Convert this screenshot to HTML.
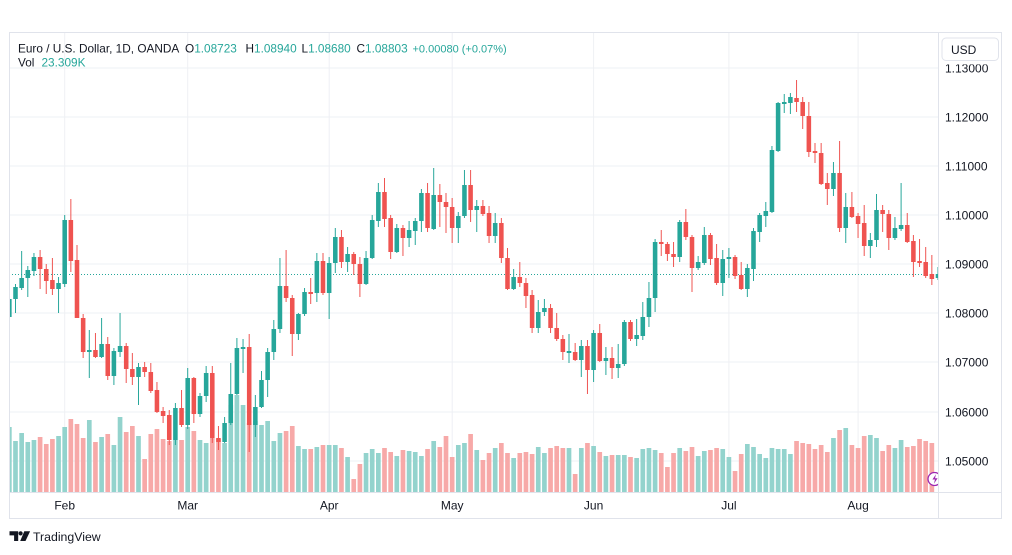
<!DOCTYPE html>
<html><head><meta charset="utf-8"><style>
html,body{margin:0;padding:0;background:#fff;overflow:hidden;}
svg{display:block;}
text{font-family:"Liberation Sans",sans-serif;}
</style></head><body>
<svg width="1012" height="555" viewBox="0 0 1012 555" xmlns="http://www.w3.org/2000/svg">
<rect width="1012" height="555" fill="#fff"/>
<defs><clipPath id="pane"><rect x="9" y="33" width="929.5" height="459"/></clipPath></defs>
<g stroke="#eef0f4" stroke-width="1">
<line x1="9" y1="68" x2="938" y2="68"/><line x1="9" y1="117" x2="938" y2="117"/><line x1="9" y1="166" x2="938" y2="166"/><line x1="9" y1="215" x2="938" y2="215"/><line x1="9" y1="264" x2="938" y2="264"/><line x1="9" y1="313" x2="938" y2="313"/><line x1="9" y1="362" x2="938" y2="362"/><line x1="9" y1="412" x2="938" y2="412"/><line x1="9" y1="461" x2="938" y2="461"/>
<line x1="64.7" y1="33" x2="64.7" y2="492"/><line x1="187.7" y1="33" x2="187.7" y2="492"/><line x1="329.2" y1="33" x2="329.2" y2="492"/><line x1="452.2" y1="33" x2="452.2" y2="492"/><line x1="593.6" y1="33" x2="593.6" y2="492"/><line x1="728.9" y1="33" x2="728.9" y2="492"/><line x1="858.1" y1="33" x2="858.1" y2="492"/>
</g>
<line x1="9" y1="274.5" x2="938" y2="274.5" stroke="#26a69a" stroke-width="1" stroke-dasharray="1 2"/>
<g clip-path="url(#pane)">
<g transform="translate(15.5 0) scale(6.15 1)">
<path fill="#93d3cd" d="M-1 427h.38V492h-.76V427zM0 441h.38V492h-.76V441zM1 433h.38V492h-.76V433zM2 442h.38V492h-.76V442zM3 440h.38V492h-.76V440zM7 436h.38V492h-.76V436zM8 427h.38V492h-.76V427zM12 420h.38V492h-.76V420zM14 437h.38V492h-.76V437zM16 445h.38V492h-.76V445zM17 417h.38V492h-.76V417zM20 436h.38V492h-.76V436zM26 440h.38V492h-.76V440zM28 427h.38V492h-.76V427zM30 440h.38V492h-.76V440zM31 443h.38V492h-.76V443zM34 443h.38V492h-.76V443zM35 405h.38V492h-.76V405zM36 395h.38V492h-.76V395zM37 405h.38V492h-.76V405zM39 421h.38V492h-.76V421zM40 425h.38V492h-.76V425zM41 421h.38V492h-.76V421zM42 441h.38V492h-.76V441zM43 433h.38V492h-.76V433zM46 446h.38V492h-.76V446zM47 449h.38V492h-.76V449zM49 447h.38V492h-.76V447zM51 445h.38V492h-.76V445zM52 445h.38V492h-.76V445zM54 457h.38V492h-.76V457zM57 453h.38V492h-.76V453zM58 449h.38V492h-.76V449zM59 453h.38V492h-.76V453zM62 456h.38V492h-.76V456zM64 451h.38V492h-.76V451zM65 452h.38V492h-.76V452zM66 456h.38V492h-.76V456zM68 441h.38V492h-.76V441zM72 445h.38V492h-.76V445zM73 443h.38V492h-.76V443zM75 450h.38V492h-.76V450zM78 448h.38V492h-.76V448zM81 458h.38V492h-.76V458zM85 447h.38V492h-.76V447zM86 453h.38V492h-.76V453zM90 448h.38V492h-.76V448zM92 448h.38V492h-.76V448zM94 446h.38V492h-.76V446zM96 456h.38V492h-.76V456zM98 455h.38V492h-.76V455zM99 455h.38V492h-.76V455zM101 458h.38V492h-.76V458zM102 449h.38V492h-.76V449zM103 448h.38V492h-.76V448zM104 450h.38V492h-.76V450zM108 448h.38V492h-.76V448zM111 456h.38V492h-.76V456zM112 451h.38V492h-.76V451zM115 449h.38V492h-.76V449zM116 457h.38V492h-.76V457zM119 444h.38V492h-.76V444zM120 447h.38V492h-.76V447zM121 454h.38V492h-.76V454zM122 458h.38V492h-.76V458zM123 448h.38V492h-.76V448zM124 449h.38V492h-.76V449zM125 449h.38V492h-.76V449zM126 454h.38V492h-.76V454zM133 438h.38V492h-.76V438zM135 428h.38V492h-.76V428zM139 435h.38V492h-.76V435zM140 438h.38V492h-.76V438zM143 448h.38V492h-.76V448zM144 440h.38V492h-.76V440z"/>
<path fill="#f7a9a8" d="M4 437h.38V492h-.76V437zM5 444h.38V492h-.76V444zM6 439h.38V492h-.76V439zM9 419h.38V492h-.76V419zM10 424h.38V492h-.76V424zM11 438h.38V492h-.76V438zM13 442h.38V492h-.76V442zM15 434h.38V492h-.76V434zM18 432h.38V492h-.76V432zM19 426h.38V492h-.76V426zM21 459h.38V492h-.76V459zM22 434h.38V492h-.76V434zM23 429h.38V492h-.76V429zM24 439h.38V492h-.76V439zM25 441h.38V492h-.76V441zM27 440h.38V492h-.76V440zM29 431h.38V492h-.76V431zM32 438h.38V492h-.76V438zM33 439h.38V492h-.76V439zM38 423h.38V492h-.76V423zM44 431h.38V492h-.76V431zM45 426h.38V492h-.76V426zM48 449h.38V492h-.76V449zM50 445h.38V492h-.76V445zM53 448h.38V492h-.76V448zM55 479h.38V492h-.76V479zM56 464h.38V492h-.76V464zM60 448h.38V492h-.76V448zM61 452h.38V492h-.76V452zM63 450h.38V492h-.76V450zM67 449h.38V492h-.76V449zM69 447h.38V492h-.76V447zM70 436h.38V492h-.76V436zM71 457h.38V492h-.76V457zM74 434h.38V492h-.76V434zM76 460h.38V492h-.76V460zM77 453h.38V492h-.76V453zM79 443h.38V492h-.76V443zM80 453h.38V492h-.76V453zM82 453h.38V492h-.76V453zM83 452h.38V492h-.76V452zM84 454h.38V492h-.76V454zM87 448h.38V492h-.76V448zM88 446h.38V492h-.76V446zM89 448h.38V492h-.76V448zM91 474h.38V492h-.76V474zM93 443h.38V492h-.76V443zM95 452h.38V492h-.76V452zM97 455h.38V492h-.76V455zM100 457h.38V492h-.76V457zM105 453h.38V492h-.76V453zM106 467h.38V492h-.76V467zM107 453h.38V492h-.76V453zM109 451h.38V492h-.76V451zM110 447h.38V492h-.76V447zM113 450h.38V492h-.76V450zM114 448h.38V492h-.76V448zM117 471h.38V492h-.76V471zM118 454h.38V492h-.76V454zM127 441h.38V492h-.76V441zM128 443h.38V492h-.76V443zM129 444h.38V492h-.76V444zM130 449h.38V492h-.76V449zM131 445h.38V492h-.76V445zM132 452h.38V492h-.76V452zM134 430h.38V492h-.76V430zM136 445h.38V492h-.76V445zM137 448h.38V492h-.76V448zM138 436h.38V492h-.76V436zM141 451h.38V492h-.76V451zM142 445h.38V492h-.76V445zM145 447h.38V492h-.76V447zM146 446h.38V492h-.76V446zM147 439h.38V492h-.76V439zM148 441h.38V492h-.76V441zM149 443h.38V492h-.76V443z"/>
<path fill="#26a69a" d="M-1 295m-.08 0h.16V320h-.16zM-1 299m-.37 0h.74V317h-.74zM0 284m-.08 0h.16V313h-.16zM0 287m-.37 0h.74V299h-.74zM1 251m-.08 0h.16V290h-.16zM1 278m-.37 0h.74V288h-.74zM2 266m-.08 0h.16V297h-.16zM2 270m-.37 0h.74V278h-.74zM3 253m-.08 0h.16V276h-.16zM3 257m-.37 0h.74V271h-.74zM7 277m-.08 0h.16V313h-.16zM7 283m-.37 0h.74V289h-.74zM8 215m-.08 0h.16V287h-.16zM8 220m-.37 0h.74V284h-.74zM12 330m-.08 0h.16V378h-.16zM12 350m-.37 0h.74V352h-.74zM14 318m-.08 0h.16V358h-.16zM14 344m-.37 0h.74V357h-.74zM16 348m-.08 0h.16V385h-.16zM16 351m-.37 0h.74V376h-.74zM17 313m-.08 0h.16V357h-.16zM17 346m-.37 0h.74V352h-.74zM20 363m-.08 0h.16V405h-.16zM20 367m-.37 0h.74V377h-.74zM26 403m-.08 0h.16V445h-.16zM26 408m-.37 0h.74V440h-.74zM28 368m-.08 0h.16V429h-.16zM28 378m-.37 0h.74V425h-.74zM30 393m-.08 0h.16V417h-.16zM30 396m-.37 0h.74V414h-.74zM31 366m-.08 0h.16V402h-.16zM31 373m-.37 0h.74V396h-.74zM34 417m-.08 0h.16V443h-.16zM34 423m-.37 0h.74V442h-.74zM35 363m-.08 0h.16V425h-.16zM35 394m-.37 0h.74V423h-.74zM36 338m-.08 0h.16V395h-.16zM36 348m-.37 0h.74V394h-.74zM37 339m-.08 0h.16V373h-.16zM37 347m-.37 0h.74V349h-.74zM39 395m-.08 0h.16V437h-.16zM39 407m-.37 0h.74V425h-.74zM40 371m-.08 0h.16V408h-.16zM40 380m-.37 0h.74V407h-.74zM41 348m-.08 0h.16V397h-.16zM41 352m-.37 0h.74V380h-.74zM42 320m-.08 0h.16V360h-.16zM42 329m-.37 0h.74V352h-.74zM43 258m-.08 0h.16V333h-.16zM43 286m-.37 0h.74V329h-.74zM46 313m-.08 0h.16V340h-.16zM46 314m-.37 0h.74V334h-.74zM47 288m-.08 0h.16V316h-.16zM47 292m-.37 0h.74V314h-.74zM49 253m-.08 0h.16V302h-.16zM49 261m-.37 0h.74V293h-.74zM51 257m-.08 0h.16V319h-.16zM51 263m-.37 0h.74V293h-.74zM52 228m-.08 0h.16V273h-.16zM52 237m-.37 0h.74V263h-.74zM54 247m-.08 0h.16V272h-.16zM54 254m-.37 0h.74V262h-.74zM57 251m-.08 0h.16V285h-.16zM57 258m-.37 0h.74V284h-.74zM58 215m-.08 0h.16V259h-.16zM58 220m-.37 0h.74V258h-.74zM59 183m-.08 0h.16V227h-.16zM59 192m-.37 0h.74V221h-.74zM62 224m-.08 0h.16V253h-.16zM62 228m-.37 0h.74V252h-.74zM64 221m-.08 0h.16V247h-.16zM64 230m-.37 0h.74V238h-.74zM65 218m-.08 0h.16V245h-.16zM65 221m-.37 0h.74V231h-.74zM66 189m-.08 0h.16V232h-.16zM66 193m-.37 0h.74V221h-.74zM68 168m-.08 0h.16V230h-.16zM68 195m-.37 0h.74V229h-.74zM72 212m-.08 0h.16V243h-.16zM72 216m-.37 0h.74V228h-.74zM73 170m-.08 0h.16V218h-.16zM73 185m-.37 0h.74V216h-.74zM75 200m-.08 0h.16V232h-.16zM75 206m-.37 0h.74V210h-.74zM78 213m-.08 0h.16V243h-.16zM78 223m-.37 0h.74V236h-.74zM81 269m-.08 0h.16V290h-.16zM81 277m-.37 0h.74V289h-.74zM85 300m-.08 0h.16V333h-.16zM85 312m-.37 0h.74V328h-.74zM86 299m-.08 0h.16V316h-.16zM86 308m-.37 0h.74V312h-.74zM90 334m-.08 0h.16V363h-.16zM90 351m-.37 0h.74V353h-.74zM92 340m-.08 0h.16V377h-.16zM92 346m-.37 0h.74V360h-.74zM94 330m-.08 0h.16V382h-.16zM94 333m-.37 0h.74V370h-.74zM96 347m-.08 0h.16V375h-.16zM96 358m-.37 0h.74V361h-.74zM98 344m-.08 0h.16V378h-.16zM98 364m-.37 0h.74V368h-.74zM99 320m-.08 0h.16V366h-.16zM99 322m-.37 0h.74V364h-.74zM101 319m-.08 0h.16V346h-.16zM101 335m-.37 0h.74V339h-.74zM102 302m-.08 0h.16V340h-.16zM102 317m-.37 0h.74V336h-.74zM103 282m-.08 0h.16V327h-.16zM103 298m-.37 0h.74V317h-.74zM104 239m-.08 0h.16V312h-.16zM104 242m-.37 0h.74V298h-.74zM108 220m-.08 0h.16V262h-.16zM108 222m-.37 0h.74V257h-.74zM111 256m-.08 0h.16V270h-.16zM111 262m-.37 0h.74V268h-.74zM112 227m-.08 0h.16V265h-.16zM112 235m-.37 0h.74V263h-.74zM115 250m-.08 0h.16V296h-.16zM115 259m-.37 0h.74V283h-.74zM116 248m-.08 0h.16V278h-.16zM116 257m-.37 0h.74V259h-.74zM119 264m-.08 0h.16V297h-.16zM119 268m-.37 0h.74V289h-.74zM120 228m-.08 0h.16V281h-.16zM120 231m-.37 0h.74V269h-.74zM121 213m-.08 0h.16V242h-.16zM121 215m-.37 0h.74V232h-.74zM122 202m-.08 0h.16V227h-.16zM122 211m-.37 0h.74V216h-.74zM123 146m-.08 0h.16V213h-.16zM123 150m-.37 0h.74V212h-.74zM124 102m-.08 0h.16V152h-.16zM124 103m-.37 0h.74V151h-.74zM125 94m-.08 0h.16V113h-.16zM125 102m-.37 0h.74V104h-.74zM126 93m-.08 0h.16V114h-.16zM126 97m-.37 0h.74V103h-.74zM133 162m-.08 0h.16V196h-.16zM133 173m-.37 0h.74V189h-.74zM135 193m-.08 0h.16V243h-.16zM135 207m-.37 0h.74V228h-.74zM139 233m-.08 0h.16V258h-.16zM139 240m-.37 0h.74V246h-.74zM140 194m-.08 0h.16V247h-.16zM140 210m-.37 0h.74V240h-.74zM143 217m-.08 0h.16V240h-.16zM143 228m-.37 0h.74V238h-.74zM144 183m-.08 0h.16V231h-.16zM144 225m-.37 0h.74V229h-.74zM150 267m-.08 0h.16V280h-.16zM150 274m-.37 0h.74V278h-.74z"/>
<path fill="#ef5350" d="M4 250m-.08 0h.16V289h-.16zM4 257m-.37 0h.74V269h-.74zM5 264m-.08 0h.16V294h-.16zM5 269m-.37 0h.74V281h-.74zM6 258m-.08 0h.16V295h-.16zM6 280m-.37 0h.74V289h-.74zM9 199m-.08 0h.16V272h-.16zM9 220m-.37 0h.74V261h-.74zM10 245m-.08 0h.16V318h-.16zM10 260m-.37 0h.74V318h-.74zM11 314m-.08 0h.16V358h-.16zM11 318m-.37 0h.74V352h-.74zM13 333m-.08 0h.16V358h-.16zM13 350m-.37 0h.74V357h-.74zM15 337m-.08 0h.16V380h-.16zM15 344m-.37 0h.74V376h-.74zM18 343m-.08 0h.16V383h-.16zM18 346m-.37 0h.74V369h-.74zM19 353m-.08 0h.16V385h-.16zM19 369m-.37 0h.74V377h-.74zM21 362m-.08 0h.16V377h-.16zM21 367m-.37 0h.74V372h-.74zM22 363m-.08 0h.16V393h-.16zM22 372m-.37 0h.74V391h-.74zM23 382m-.08 0h.16V413h-.16zM23 390m-.37 0h.74V412h-.74zM24 407m-.08 0h.16V423h-.16zM24 411m-.37 0h.74V416h-.74zM25 410m-.08 0h.16V445h-.16zM25 415m-.37 0h.74V440h-.74zM27 390m-.08 0h.16V427h-.16zM27 408m-.37 0h.74V425h-.74zM29 377m-.08 0h.16V423h-.16zM29 378m-.37 0h.74V414h-.74zM32 366m-.08 0h.16V443h-.16zM32 373m-.37 0h.74V438h-.74zM33 426m-.08 0h.16V450h-.16zM33 438m-.37 0h.74V442h-.74zM38 334m-.08 0h.16V452h-.16zM38 347m-.37 0h.74V425h-.74zM44 250m-.08 0h.16V302h-.16zM44 286m-.37 0h.74V298h-.74zM45 295m-.08 0h.16V356h-.16zM45 298m-.37 0h.74V334h-.74zM48 278m-.08 0h.16V304h-.16zM48 292m-.37 0h.74V294h-.74zM50 253m-.08 0h.16V295h-.16zM50 261m-.37 0h.74V293h-.74zM53 230m-.08 0h.16V268h-.16zM53 237m-.37 0h.74V262h-.74zM55 252m-.08 0h.16V275h-.16zM55 254m-.37 0h.74V264h-.74zM56 257m-.08 0h.16V297h-.16zM56 264m-.37 0h.74V284h-.74zM60 178m-.08 0h.16V227h-.16zM60 192m-.37 0h.74V219h-.74zM61 215m-.08 0h.16V259h-.16zM61 218m-.37 0h.74V252h-.74zM63 225m-.08 0h.16V256h-.16zM63 228m-.37 0h.74V238h-.74zM67 183m-.08 0h.16V232h-.16zM67 193m-.37 0h.74V228h-.74zM69 184m-.08 0h.16V227h-.16zM69 195m-.37 0h.74V202h-.74zM70 193m-.08 0h.16V233h-.16zM70 202m-.37 0h.74V207h-.74zM71 198m-.08 0h.16V243h-.16zM71 207m-.37 0h.74V228h-.74zM74 170m-.08 0h.16V222h-.16zM74 185m-.37 0h.74V210h-.74zM76 200m-.08 0h.16V216h-.16zM76 206m-.37 0h.74V214h-.74zM77 206m-.08 0h.16V243h-.16zM77 213m-.37 0h.74V236h-.74zM79 218m-.08 0h.16V263h-.16zM79 223m-.37 0h.74V258h-.74zM80 248m-.08 0h.16V290h-.16zM80 258m-.37 0h.74V289h-.74zM82 262m-.08 0h.16V287h-.16zM82 277m-.37 0h.74V283h-.74zM83 278m-.08 0h.16V308h-.16zM83 283m-.37 0h.74V296h-.74zM84 290m-.08 0h.16V333h-.16zM84 295m-.37 0h.74V328h-.74zM87 304m-.08 0h.16V333h-.16zM87 308m-.37 0h.74V328h-.74zM88 313m-.08 0h.16V341h-.16zM88 328m-.37 0h.74V339h-.74zM89 335m-.08 0h.16V360h-.16zM89 339m-.37 0h.74V352h-.74zM91 343m-.08 0h.16V361h-.16zM91 352m-.37 0h.74V360h-.74zM93 340m-.08 0h.16V394h-.16zM93 346m-.37 0h.74V370h-.74zM95 324m-.08 0h.16V362h-.16zM95 333m-.37 0h.74V361h-.74zM97 347m-.08 0h.16V379h-.16zM97 358m-.37 0h.74V368h-.74zM100 320m-.08 0h.16V341h-.16zM100 322m-.37 0h.74V339h-.74zM105 230m-.08 0h.16V256h-.16zM105 242m-.37 0h.74V244h-.74zM106 242m-.08 0h.16V261h-.16zM106 244m-.37 0h.74V254h-.74zM107 242m-.08 0h.16V267h-.16zM107 254m-.37 0h.74V257h-.74zM109 209m-.08 0h.16V240h-.16zM109 222m-.37 0h.74V237h-.74zM110 235m-.08 0h.16V292h-.16zM110 237m-.37 0h.74V268h-.74zM113 233m-.08 0h.16V265h-.16zM113 235m-.37 0h.74V259h-.74zM114 244m-.08 0h.16V285h-.16zM114 258m-.37 0h.74V283h-.74zM117 255m-.08 0h.16V279h-.16zM117 257m-.37 0h.74V276h-.74zM118 262m-.08 0h.16V290h-.16zM118 275m-.37 0h.74V289h-.74zM127 80m-.08 0h.16V112h-.16zM127 98m-.37 0h.74V102h-.74zM128 97m-.08 0h.16V129h-.16zM128 102m-.37 0h.74V116h-.74zM129 102m-.08 0h.16V157h-.16zM129 116m-.37 0h.74V152h-.74zM130 143m-.08 0h.16V163h-.16zM130 151m-.37 0h.74V153h-.74zM131 143m-.08 0h.16V185h-.16zM131 153m-.37 0h.74V184h-.74zM132 173m-.08 0h.16V205h-.16zM132 183m-.37 0h.74V189h-.74zM134 141m-.08 0h.16V232h-.16zM134 173m-.37 0h.74V228h-.74zM136 192m-.08 0h.16V218h-.16zM136 207m-.37 0h.74V217h-.74zM137 213m-.08 0h.16V238h-.16zM137 216m-.37 0h.74V224h-.74zM138 205m-.08 0h.16V256h-.16zM138 223m-.37 0h.74V246h-.74zM141 205m-.08 0h.16V232h-.16zM141 210m-.37 0h.74V214h-.74zM142 210m-.08 0h.16V250h-.16zM142 214m-.37 0h.74V238h-.74zM145 213m-.08 0h.16V243h-.16zM145 225m-.37 0h.74V242h-.74zM146 235m-.08 0h.16V277h-.16zM146 241m-.37 0h.74V262h-.74zM147 239m-.08 0h.16V267h-.16zM147 261m-.37 0h.74V263h-.74zM148 247m-.08 0h.16V278h-.16zM148 262m-.37 0h.74V276h-.74zM149 255m-.08 0h.16V285h-.16zM149 274m-.37 0h.74V279h-.74z"/>
</g>
<circle cx="934.5" cy="479" r="6.5" fill="#fff" stroke="#9c27b0" stroke-width="1.3"/>
<path d="M936 474.3l-3.6 5.2h2.6l-1.1 4.2 3.7-5.4h-2.6z" fill="#9c27b0"/>
</g>
<!-- frame & axes -->
<rect x="9.5" y="32.5" width="992" height="486" fill="none" stroke="#e0e3eb" stroke-width="1"/>
<line x1="938.5" y1="33" x2="938.5" y2="518" stroke="#e0e3eb"/>
<line x1="9" y1="492.5" x2="1001" y2="492.5" stroke="#e0e3eb"/>
<g font-size="12" fill="#131722">
<text x="945" y="121.3">1.12000</text>
<text x="945" y="170.3">1.11000</text>
<text x="945" y="219.3">1.10000</text>
<text x="945" y="268.3">1.09000</text>
<text x="945" y="317.3">1.08000</text>
<text x="945" y="366.3">1.07000</text>
<text x="945" y="416.3">1.06000</text>
<text x="945" y="465.3">1.05000</text>
<text x="945" y="72.3">1.13000</text>
</g>
<rect x="939.5" y="33" width="61.5" height="31.5" fill="#fff"/>
<rect x="942" y="38" width="56.5" height="22.5" rx="4" fill="#fff" stroke="#e0e3eb"/>
<text x="951" y="54" font-size="12" fill="#131722">USD</text>
<g font-size="12" fill="#131722" text-anchor="middle">
<text x="64.7" y="509.5">Feb</text>
<text x="187.7" y="509.5">Mar</text>
<text x="329.2" y="509.5">Apr</text>
<text x="452.2" y="509.5">May</text>
<text x="593.6" y="509.5">Jun</text>
<text x="728.9" y="509.5">Jul</text>
<text x="858.1" y="509.5">Aug</text>
</g>
<!-- header -->
<g font-size="11.8">
<text x="18" y="52.7" fill="#131722">Euro / U.S. Dollar, 1D, OANDA</text>
<text x="185" y="52.7"><tspan fill="#131722">O</tspan><tspan fill="#26a69a">1.08723</tspan></text>
<text x="245.5" y="52.7"><tspan fill="#131722">H</tspan><tspan fill="#26a69a">1.08940</tspan></text>
<text x="301.5" y="52.7"><tspan fill="#131722">L</tspan><tspan fill="#26a69a">1.08680</tspan></text>
<text x="356.5" y="52.7"><tspan fill="#131722">C</tspan><tspan fill="#26a69a">1.08803</tspan></text>
<text x="412.5" y="52.7" fill="#26a69a" font-size="11">+0.00080 (+0.07%)</text>
<text x="18" y="66.7" fill="#131722">Vol</text>
<text x="41.5" y="66.7" fill="#26a69a">23.309K</text>
</g>
<!-- logo -->
<g fill="#131722">
<path d="M9.5 531.3h8.7v9.7h-4.1v-5.6h-4.6z"/>
<circle cx="20.6" cy="533.4" r="2.1"/>
<path d="M24.3 531.3h5.8l-4.6 9.7h-5.3z"/>
</g>
<text x="33" y="541" font-size="12.3" fill="#131722">TradingView</text>
</svg>
</body></html>
